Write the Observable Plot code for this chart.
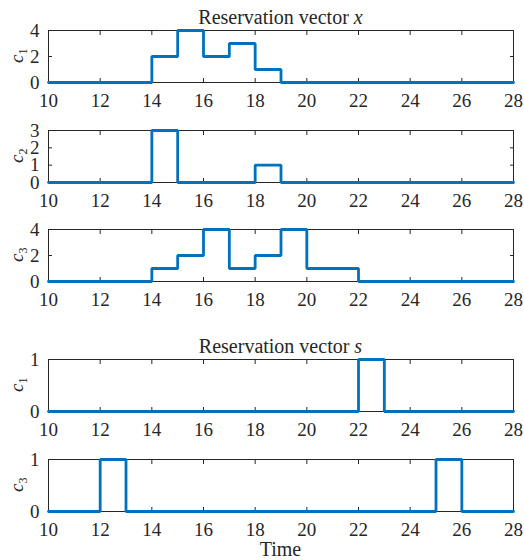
<!DOCTYPE html>
<html>
<head>
<meta charset="utf-8">
<script src="https://cdn.jsdelivr.net/npm/d3@7"></script>
<script src="https://cdn.jsdelivr.net/npm/@observablehq/plot@0.6"></script>
<style>
  html, body { margin: 0; padding: 0; background: #fff; }
  #wrap { position: relative; width: 524px; height: 560px; font-family: "Liberation Serif", "Times New Roman", serif; color: #262626; }
  .panel { position: absolute; left: 0; }
  .panel text { font-family: "Liberation Serif", "Times New Roman", serif !important; }
  .title { position: absolute; left: 48px; width: 465px; text-align: center; font-size: 20px; line-height: 1; white-space: nowrap; }
  .ylab { position: absolute; font-size: 19px; line-height: 1; white-space: nowrap; transform-origin: 0 0; transform: rotate(-90deg); }
  .ylab sub { font-size: 12px; font-style: normal; vertical-align: -4px; }
</style>
</head>
<body>
<div id="wrap"></div>
<script>
// Time grid (hours)
const time = [10, 11, 12, 13, 14, 15, 16, 17, 18, 19, 20, 21, 22, 23, 24, 25, 26, 27, 28];
const xTicks = [10, 12, 14, 16, 18, 20, 22, 24, 26, 28];

// Reservation vector x
const x_c1 = [0, 0, 0, 0, 2, 4, 2, 3, 1, 0, 0, 0, 0, 0, 0, 0, 0, 0, 0];
const x_c2 = [0, 0, 0, 0, 3, 0, 0, 0, 1, 0, 0, 0, 0, 0, 0, 0, 0, 0, 0];
const x_c3 = [0, 0, 0, 0, 1, 2, 4, 1, 2, 4, 1, 1, 0, 0, 0, 0, 0, 0, 0];
// Reservation vector s
const s_c1 = [0, 0, 0, 0, 0, 0, 0, 0, 0, 0, 0, 0, 1, 0, 0, 0, 0, 0, 0];
const s_c3 = [0, 0, 1, 0, 0, 0, 0, 0, 0, 0, 0, 0, 0, 0, 0, 1, 0, 0, 0];

const yTicks_x1 = [0, 2, 4];
const yTicks_x2 = [0, 1, 2, 3];
const yTicks_x3 = [0, 2, 4];
const yTicks_s = [0, 1];

const panels = [
  {values: x_c1, ymax: 4, yTicks: yTicks_x1, sub: "1", top: 30},
  {values: x_c2, ymax: 3, yTicks: yTicks_x2, sub: "2", top: 130},
  {values: x_c3, ymax: 4, yTicks: yTicks_x3, sub: "3", top: 229},
  {values: s_c1, ymax: 1, yTicks: yTicks_s, sub: "1", top: 359},
  {values: s_c3, ymax: 1, yTicks: yTicks_s, sub: "3", top: 459}
];

const wrap = document.getElementById("wrap");
const MT = 6, MB = 28, INNER = 52;
const ink = "#262626";
const serif = "Liberation Serif";
const fmt = d => String(d);

for (const p of panels) {
  const data = time.map((t, i) => ({t, v: p.values[i]}));
  const chart = Plot.plot({
    width: 524,
    height: INNER + MT + MB,
    marginLeft: 48,
    marginRight: 11,
    marginTop: MT,
    marginBottom: MB,
    style: {fontFamily: "'Liberation Serif', 'Times New Roman', serif", fontSize: "19px", color: ink, background: "white", overflow: "visible"},
    x: {domain: [10, 28], ticks: xTicks, tickFormat: fmt},
    y: {domain: [0, p.ymax], ticks: p.yTicks, tickFormat: fmt},
    marks: [
      Plot.frame({stroke: ink, strokeWidth: 1}),
      Plot.axisX(xTicks, {anchor: "bottom", tickSize: 0, tickPadding: 11, tickFormat: fmt, label: null, fill: ink, fontFamily: serif}),
      Plot.axisX(xTicks, {anchor: "bottom", tickSize: -4, fill: "none", label: null, stroke: ink}),
      Plot.axisX(xTicks, {anchor: "top", tickSize: -4, fill: "none", label: null, stroke: ink}),
      Plot.axisY(p.yTicks, {anchor: "left", tickSize: 0, tickPadding: 9, tickFormat: fmt, label: null, fill: ink, fontFamily: serif}),
      Plot.axisY(p.yTicks, {anchor: "left", tickSize: -4, fill: "none", label: null, stroke: ink}),
      Plot.axisY(p.yTicks, {anchor: "right", tickSize: -4, fill: "none", label: null, stroke: ink}),
      Plot.line(data, {x: "t", y: "v", curve: "step-after", stroke: "#0072BD", strokeWidth: 2.8, strokeLinejoin: "miter"})
    ]
  });
  chart.classList.add("panel");
  chart.style.top = (p.top - MT) + "px";
  wrap.appendChild(chart);

  const lab = document.createElement("div");
  lab.className = "ylab";
  lab.innerHTML = `<i>c</i><sub>${p.sub}</sub>`;
  wrap.appendChild(lab);
  const w = lab.getBoundingClientRect().height; // rotated: height = text width
  lab.style.left = "7px";
  lab.style.top = (p.top + INNER / 2 + w / 2) + "px";
}

function addTitle(html, baseline) {
  const d = document.createElement("div");
  d.className = "title";
  d.innerHTML = html;
  d.style.top = (baseline - 17) + "px";
  wrap.appendChild(d);
}
addTitle("Reservation vector <i>x</i>", 24);
addTitle("Reservation vector <i>s</i>", 353);
addTitle("Time", 556);
</script>
</body>
</html>
